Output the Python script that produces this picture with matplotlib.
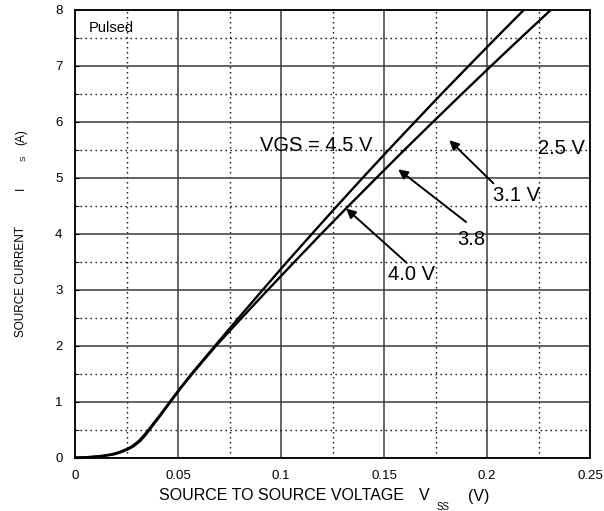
import matplotlib
matplotlib.use("Agg")
import matplotlib.pyplot as plt
from matplotlib.patches import FancyArrowPatch
from matplotlib.ticker import MultipleLocator

plt.rcParams['font.family'] = ['Liberation Sans', 'DejaVu Sans']

# ---- data ----
current_a = [0, 0.01, 0.03, 0.06, 0.10, 0.15, 0.20, 0.30, 0.40, 0.50, 0.75, 1.00, 1.25, 1.50, 1.75,
             2.0, 2.5, 3.0, 3.5, 4.0, 4.5, 5.0, 5.5, 6.0, 6.5, 7.0, 7.5, 8.0]
vss_vgs45 = [0.0, 0.006, 0.0125, 0.0178, 0.0215, 0.0248, 0.0275, 0.0310, 0.0335, 0.0357, 0.0410,
             0.0461, 0.0512, 0.0566, 0.0623,
             0.0680, 0.0795, 0.0912, 0.1030, 0.1151, 0.1273, 0.1397, 0.1523, 0.1651, 0.1780,
             0.1912, 0.2045, 0.2180]
vss_vgs40 = [0.0, 0.008, 0.0140, 0.0190, 0.0225, 0.0257, 0.0283, 0.0317, 0.0341, 0.0362, 0.0414,
             0.0464, 0.0515, 0.0570, 0.0627,
             0.0685, 0.0810, 0.0937, 0.1066, 0.1196, 0.1329, 0.1464, 0.1600, 0.1739, 0.1879,
             0.2021, 0.2165, 0.2311]

x_ticks = [0, 0.05, 0.1, 0.15, 0.2, 0.25]
x_tick_labels = ['0', '0.05', '0.1', '0.15', '0.2', '0.25']
y_ticks = [0, 1, 2, 3, 4, 5, 6, 7, 8]

# annotation labels: (text, x, y)
labels = [("VGS = 4.5 V", 0.0898, 5.57),
          ("2.5 V", 0.2248, 5.52),
          ("3.1 V", 0.2028, 4.69),
          ("3.8", 0.1854, 3.90),
          ("4.0 V", 0.1520, 3.27)]
# arrows: (tail_x, tail_y, head_x, head_y)
arrows = [(0.2031, 4.90, 0.1817, 5.67),
          (0.1898, 4.21, 0.1569, 5.15),
          (0.1610, 3.48, 0.1316, 4.45)]

W, H = 604, 511
fig = plt.figure(figsize=(W / 100, H / 100), dpi=100)
ax = fig.add_axes([75 / W, 1 - 457.7 / H, (590 - 75) / W, (457.7 - 9.7) / H])

ax.set_xlim(0, 0.25)
ax.set_ylim(0, 8)
ax.set_xticks(x_ticks)
ax.set_xticklabels(x_tick_labels)
ax.set_yticks(y_ticks)
ax.xaxis.set_minor_locator(MultipleLocator(0.025))
ax.yaxis.set_minor_locator(MultipleLocator(0.5))

ax.grid(which='major', color='#3a3a3a', lw=1.1, ls='-')
ax.grid(which='minor', color='black', lw=1.0, ls=(0, (1, 2.6)))
ax.set_axisbelow(True)

ax.tick_params(axis='x', which='both', length=0, pad=8.5, labelsize=9.5)
ax.tick_params(axis='y', which='both', direction='in', length=3, pad=9, labelsize=9.5)
for s in ax.spines.values():
    s.set_linewidth(1.3)
    s.set_color('black')

for xs in (vss_vgs45, vss_vgs40):
    ax.plot(xs, current_a, color='black', lw=1.7, clip_on=False,
            solid_capstyle='butt', solid_joinstyle='round')

ax.text(0.0068, 7.67, "Pulsed", fontsize=10.5, ha='left', va='center')

for t, x, y in labels:
    ax.text(x, y, t, fontsize=14.5, ha='left', va='center', color='black')

for tx, ty, hx, hy in arrows:
    ax.add_patch(FancyArrowPatch((tx, ty), (hx, hy), arrowstyle='-|>', mutation_scale=14,
                                 lw=1.4, color='black', shrinkA=0, shrinkB=0))

# axis labels built from pieces (pixel positions)
def fx(px):
    return px / W

def fy(py):
    return 1 - py / H

fig.text(fx(281.5), fy(496), "SOURCE TO SOURCE VOLTAGE", fontsize=11.5, ha='center', va='center')
fig.text(fx(424), fy(496), "V", fontsize=11.5, ha='center', va='center')
fig.text(fx(443.5), fy(507), "SS", fontsize=7, ha='center', va='center')
fig.text(fx(479), fy(496), "(V)", fontsize=11.5, ha='center', va='center')

fig.text(fx(21), fy(281), "SOURCE CURRENT", fontsize=8.5, rotation=90, ha='center', va='center')
fig.text(fx(21), fy(188), "I", fontsize=8.5, rotation=90, ha='center', va='center')
fig.text(fx(24.5), fy(158), "S", fontsize=6, rotation=90, ha='center', va='center')
fig.text(fx(21), fy(137), "(A)", fontsize=8.5, rotation=90, ha='center', va='center')

fig.savefig("out.png", dpi=100)
